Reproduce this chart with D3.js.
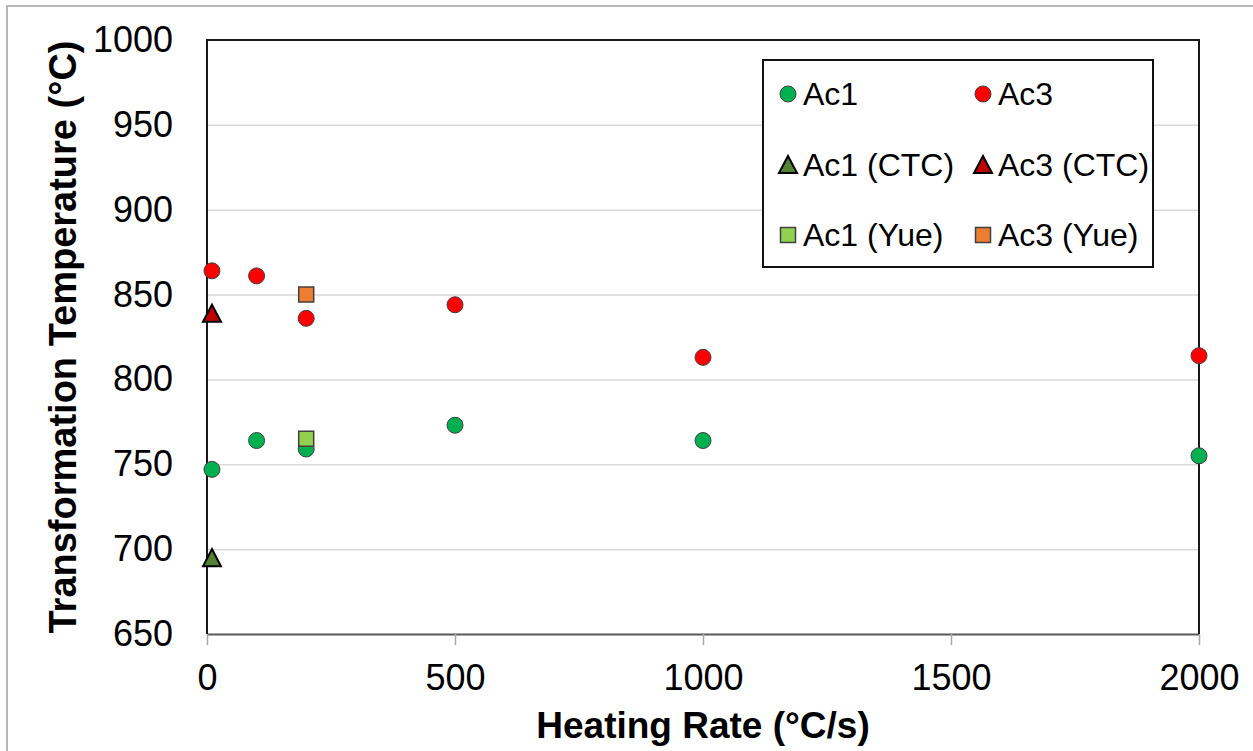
<!DOCTYPE html>
<html>
<head>
<meta charset="utf-8">
<script src="https://cdn.jsdelivr.net/npm/d3@7"></script>
<style>
  body { margin: 0; background: #fff; }
  text { font-family: "Liberation Sans", Arial, sans-serif; fill: #000; }
  .grid line { stroke: #d9d9d9; stroke-width: 1.5; }
  .grid path { display: none; }
  .x.axis path { stroke: #595959; stroke-width: 2; }
  .x.axis line { stroke: #a6a6a6; stroke-width: 1.5; }
  .y.axis path { display: none; }
  .y.axis line { display: none; }
  .tick text { font-size: 36px; }
  .label { font-weight: bold; }
  .x.label { font-size: 37px; }
  .y.label { font-size: 38px; }
  .legend text { font-size: 32px; }
</style>
</head>
<body>
<svg id="visualisation" width="1253" height="751"></svg>
<script>
// heating rates (degC/s) and measured transformation temperatures (degC)
var rates = [10, 100, 200, 500, 1000, 2000];
var ac1 = [747, 764, 759, 773, 764, 755];
var ac3 = [864, 861, 836, 844, 813, 814];

var ctcRates = [10];
var ac1Ctc = [695];
var ac3Ctc = [839];

var yueRates = [200];
var ac1Yue = [765];
var ac3Yue = [850];

var xTicks = [0, 500, 1000, 1500, 2000];
var yTicks = [650, 700, 750, 800, 850, 900, 950, 1000];

initChart();

function initChart() {

	var svg = d3.select("#visualisation"),
		width = 1253,
		height = 751,
		margins = {
			top: 40,
			right: 54,
			bottom: 117,
			left: 207
		},

	xRange = d3.scaleLinear().range([margins.left, width - margins.right]).domain([0, 2000]),
	yRange = d3.scaleLinear().range([height - margins.bottom, margins.top]).domain([650, 1000]);

	// outer chart border (only top and left edges fall inside the picture)
	svg.append("rect")
		.attr("x", 7)
		.attr("y", 6)
		.attr("width", 1400)
		.attr("height", 900)
		.attr("fill", "none")
		.attr("stroke", "#a0a0a0")
		.attr("stroke-width", 1.5);

	svg.append("g")
		.attr("class", "grid")
		.attr("transform", "translate(" + margins.left + ",0)")
		.call(d3.axisLeft(yRange)
			.tickValues(yTicks.slice(1, -1))
			.tickSize(-(width - margins.left - margins.right))
			.tickFormat("")
		);

	svg.append("g")
		.attr("class", "x axis")
		.attr("transform", "translate(0," + (height - margins.bottom) + ")")
		.call(d3.axisBottom(xRange)
			.tickValues(xTicks)
			.tickSizeInner(11)
			.tickSizeOuter(0)
			.tickPadding(19)
			.tickFormat(d3.format("d"))
		);

	svg.append("g")
		.attr("class", "y axis")
		.attr("transform", "translate(" + margins.left + ",0)")
		.call(d3.axisLeft(yRange)
			.tickValues(yTicks)
			.tickSize(0)
			.tickPadding(34)
			.tickFormat(d3.format("d"))
		);

	// frame: left, top, right in black
	svg.append("path")
		.attr("d", "M" + xRange(0) + "," + yRange(650) + "V" + yRange(1000) + "H" + xRange(2000) + "V" + yRange(650))
		.attr("fill", "none")
		.attr("stroke", "#1a1a1a")
		.attr("stroke-width", 2);

	// triangle centred on its bounding box, like the spreadsheet marker
	var boxTriangle = {
		draw: function (ctx, size) {
			var w = Math.sqrt(size), h = w * 0.95;
			ctx.moveTo(0, -h / 2);
			ctx.lineTo(w / 2, h / 2);
			ctx.lineTo(-w / 2, h / 2);
			ctx.closePath();
		}
	};

	var series = [
		{ name: "Ac1", xs: rates, ys: ac1, type: d3.symbolCircle, size: 201, fill: "#00b050", stroke: "#404040", sw: 1 },
		{ name: "Ac3", xs: rates, ys: ac3, type: d3.symbolCircle, size: 201, fill: "#ff0000", stroke: "#404040", sw: 1 },
		{ name: "Ac1 (CTC)", xs: ctcRates, ys: ac1Ctc, type: boxTriangle, size: 324, fill: "#548235", stroke: "#000", sw: 2 },
		{ name: "Ac3 (CTC)", xs: ctcRates, ys: ac3Ctc, type: boxTriangle, size: 324, fill: "#c00000", stroke: "#000", sw: 2 },
		{ name: "Ac1 (Yue)", xs: yueRates, ys: ac1Yue, type: d3.symbolSquare, size: 225, fill: "#92d050", stroke: "#404040", sw: 1.5 },
		{ name: "Ac3 (Yue)", xs: yueRates, ys: ac3Yue, type: d3.symbolSquare, size: 225, fill: "#ed7d31", stroke: "#404040", sw: 1.5 }
	];

	series.forEach(function (s) {
		svg.append("g")
			.selectAll("path")
			.data(s.xs.map(function (x, i) { return { x: x, y: s.ys[i] }; }))
			.enter().append("path")
			.attr("transform", function (d) { return "translate(" + xRange(d.x) + "," + yRange(d.y) + ")"; })
			.attr("d", d3.symbol().type(s.type).size(s.size))
			.attr("fill", s.fill)
			.attr("stroke", s.stroke)
			.attr("stroke-width", s.sw);
	});

	// legend
	var legend = svg.append("g").attr("class", "legend");

	legend.append("rect")
		.attr("x", 763)
		.attr("y", 60)
		.attr("width", 390)
		.attr("height", 207)
		.attr("fill", "#fff")
		.attr("stroke", "#111")
		.attr("stroke-width", 2);

	series.forEach(function (s, i) {
		var col = i % 2, row = Math.floor(i / 2),
			mx = 788 + col * 195,
			my = 94 + row * 70.5;
		legend.append("path")
			.attr("transform", "translate(" + mx + "," + my + ")")
			.attr("d", d3.symbol().type(s.type).size(s.size))
			.attr("fill", s.fill)
			.attr("stroke", s.stroke)
			.attr("stroke-width", s.sw);
		legend.append("text")
			.attr("x", mx + 15)
			.attr("y", my + 11)
			.text(s.name);
	});

	svg.append("text")
		.attr("class", "x label")
		.attr("text-anchor", "middle")
		.attr("x", (margins.left + width - margins.right) / 2)
		.attr("y", 738)
		.text("Heating Rate (\u00b0C/s)");

	svg.append("text")
		.attr("class", "y label")
		.attr("text-anchor", "middle")
		.attr("transform", "translate(76," + ((margins.top + height - margins.bottom) / 2) + ") rotate(-90)")
		.text("Transformation Temperature (\u00b0C)");

}
</script>
</body>
</html>
